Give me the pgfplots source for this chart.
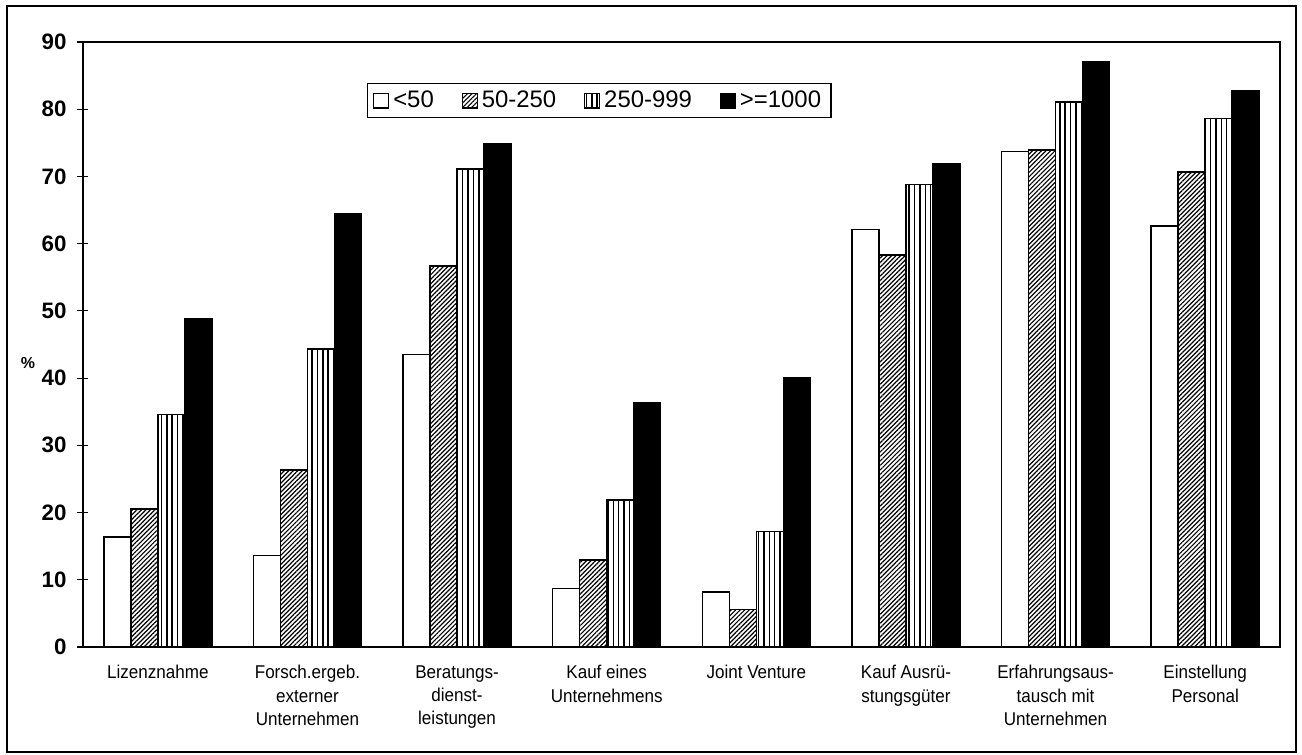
\documentclass[border=0pt]{standalone}
\usepackage{fontspec}
\setmainfont{Liberation Sans}
\newfontfamily\narrow[FakeStretch=0.92]{Liberation Sans}
\usepackage{pgfplots}
\pgfplotsset{compat=1.18}
\usetikzlibrary{patterns.meta}

\tikzset{
	hatchA/.style={draw=black, fill=white, pattern={Lines[angle=45,distance=1.6pt,line width=0.6pt]}},
	hatchB/.style={draw=black, fill=white, pattern={Lines[angle=90,distance=2.7pt,line width=0.75pt]}},
}

\begin{document}
\begin{tikzpicture}
	\begin{axis}[
	name=ax,
	scale only axis,
	width=598.5bp,
	height=302.5bp,
	ybar=0pt,
	bar width=13.5bp,
	xmin=-0.5, xmax=7.5,
	ymin=0, ymax=90,
	ytick={0,10,...,90},
	xtick={0,...,7},
	xticklabels={
		Lizenznahme,
		{Forsch.ergeb.\\externer\\Unternehmen},
		{Beratungs-\\dienst-\\leistungen},
		{Kauf eines\\Unternehmens},
		Joint Venture,
		{Kauf Ausrü-\\stungsgüter},
		{Erfahrungsaus-\\tausch mit\\Unternehmen},
		{Einstellung\\Personal}
	},
	/pgf/number format/assume math mode=true,
	xtick style={draw=none},
	ytick pos=left,
	tick align=center,
	major tick length=5.5bp,
	axis line style={line width=0.6bp},
	tick style={line width=0.6bp, black},
	yticklabel style={font=\fontsize{11.2}{13}\selectfont\bfseries, xshift=-2bp},
	xticklabel style={font=\narrow\fontsize{9.3}{11.6}\selectfont, align=center, anchor=north, yshift=-3bp},
	ylabel={\%},
	ylabel style={at={(axis description cs:-0.046,0.47)}, rotate=-90, anchor=center, font=\fontsize{8}{9}\selectfont\bfseries},
	legend style={
		at={(0.237,0.932)},
		anchor=north west,
		legend columns=4,
		draw=black,
		line width=0.6bp,
		font=\fontsize{12}{14}\selectfont,
		inner xsep=3bp,
		inner ysep=1.5bp,
		/tikz/every even column/.append style={column sep=12bp},
	},
	legend image code/.code={\draw[#1, line width=0.6bp] (0bp,-3.7bp) rectangle (7.4bp,3.7bp);},
	]
	\addplot[draw=black, fill=white, line width=0.8bp] coordinates
	{(0,16.4) (1,13.6) (2,43.5) (3,8.7) (4,8.2) (5,62.1) (6,73.7) (7,62.6)};
	\addplot[hatchA, line width=0.8bp] coordinates
	{(0,20.5) (1,26.3) (2,56.7) (3,12.9) (4,5.6) (5,58.3) (6,73.9) (7,70.7)};
	\addplot[hatchB, line width=0.8bp] coordinates
	{(0,34.6) (1,44.3) (2,71.1) (3,21.9) (4,17.2) (5,68.8) (6,81.1) (7,78.6)};
	\addplot[draw=black, fill=black, line width=0.8bp] coordinates
	{(0,48.8) (1,64.4) (2,74.9) (3,36.4) (4,40.0) (5,71.9) (6,87.0) (7,82.7)};
	\legend{<50, 50-250, 250-999, >=1000}
	\end{axis}
	\pgfresetboundingbox
	\path[use as bounding box] ([xshift=-41.5bp,yshift=-54bp]ax.south west) rectangle ([xshift=11bp,yshift=21bp]ax.north east);
	\draw[line width=1bp] ([xshift=-38bp,yshift=-52.5bp]ax.south west) rectangle ([xshift=8bp,yshift=18bp]ax.north east);
\end{tikzpicture}
\end{document}
